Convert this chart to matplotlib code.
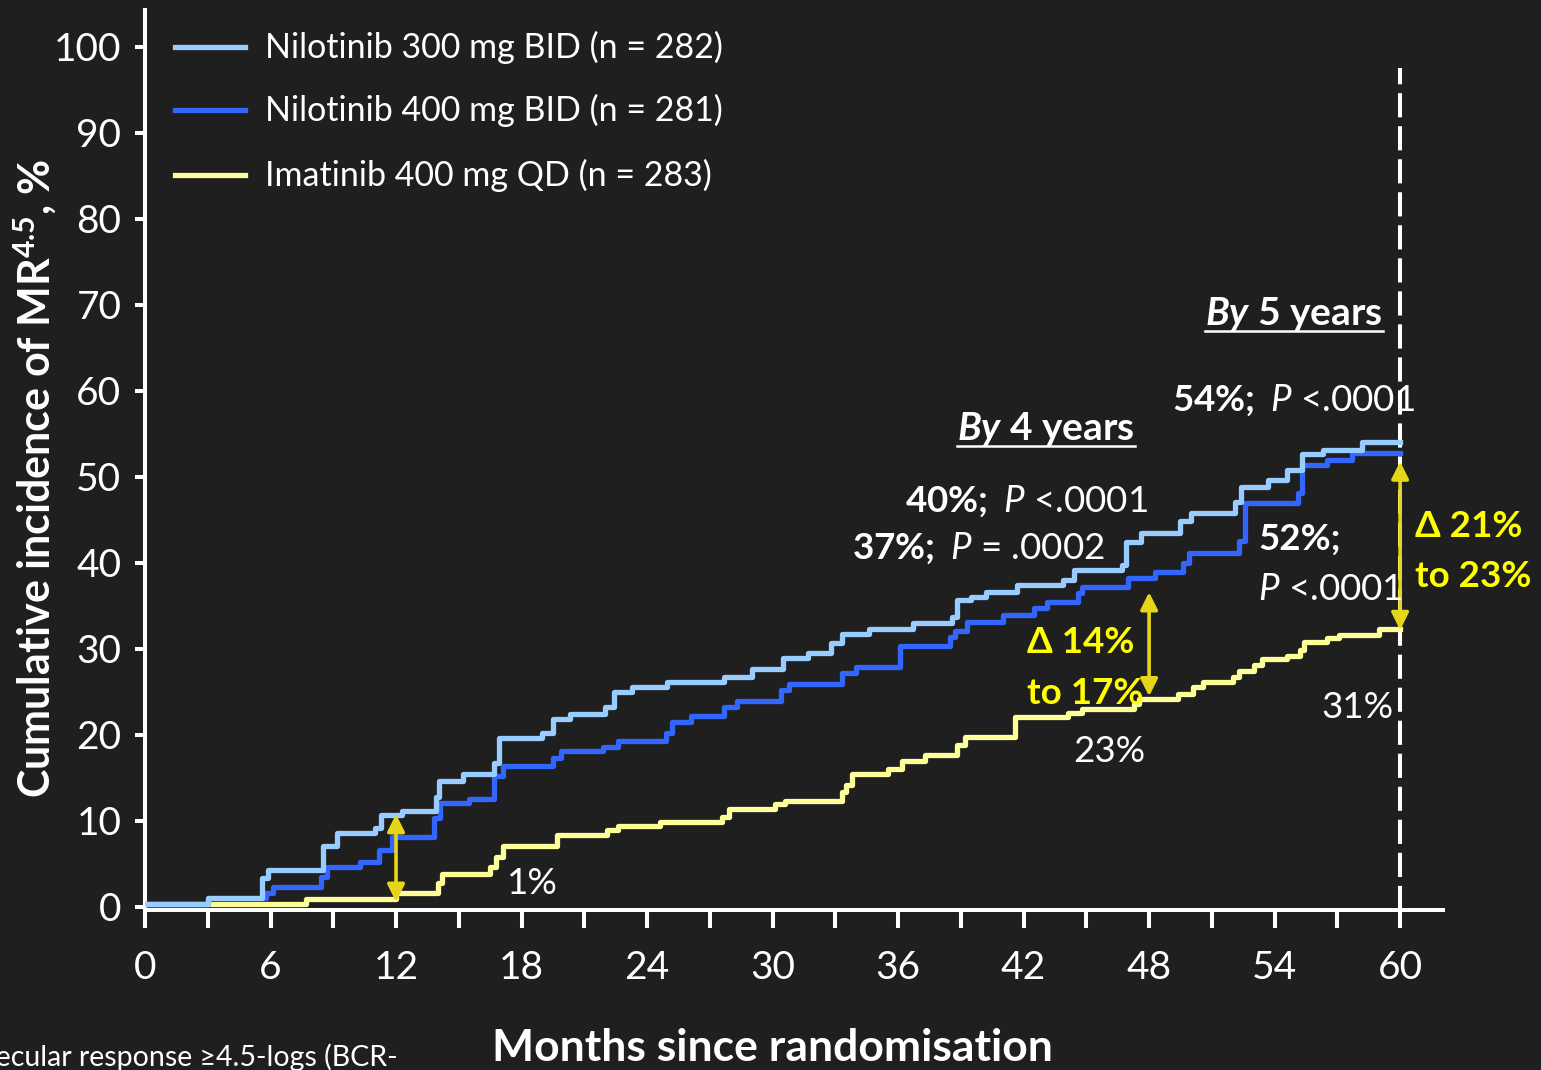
import matplotlib
matplotlib.use('Agg')
import matplotlib.pyplot as plt
from matplotlib.lines import Line2D
from matplotlib.ticker import MultipleLocator

# --- DATA ---
NIL300_T = [0, 3.0, 5.6, 5.9, 8.5, 9.2, 11.0, 11.3, 12.3, 13.9, 14.05, 15.2, 16.7, 16.9,
            19.0, 19.5, 20.3, 22.0, 22.4, 23.3, 24.95, 27.7, 29.0, 30.5, 31.7, 32.8, 33.3,
            34.6, 36.7, 38.6, 38.8, 39.5, 40.2, 41.7, 43.9, 44.4, 46.7, 46.9, 47.6, 49.5,
            50.0, 52.1, 52.4, 53.7, 54.6, 55.3, 56.3, 58.2, 60]
NIL300_V = [0.4, 1.0, 3.4, 4.3, 7.1, 8.6, 9.2, 10.7, 11.2, 12.8, 14.7, 15.5, 16.7, 19.7,
            20.2, 21.9, 22.4, 23.3, 25.0, 25.6, 26.2, 26.8, 27.7, 28.9, 29.5, 30.7, 31.7,
            32.3, 33.0, 33.7, 35.7, 36.0, 36.6, 37.4, 38.0, 39.2, 39.8, 42.4, 43.5, 44.9,
            45.8, 47.1, 48.8, 49.6, 50.8, 52.7, 53.1, 54.1, 54.1]

NIL400_T = [0, 3.0, 5.8, 6.1, 8.4, 8.7, 10.3, 11.2, 11.8, 13.8, 14.1, 15.5, 16.7, 17.1,
            19.5, 19.9, 21.9, 22.6, 24.9, 25.2, 26.1, 27.7, 28.3, 30.4, 30.8, 33.3, 34.0,
            36.1, 38.5, 38.7, 39.3, 41.0, 42.5, 43.1, 44.6, 44.8, 47.0, 48.3, 49.6, 49.9,
            52.3, 52.6, 55.1, 55.3, 56.5, 57.7, 60]
NIL400_V = [0.35, 1.0, 1.6, 2.3, 3.5, 4.6, 5.2, 6.6, 8.1, 10.4, 12.1, 12.5, 15.2, 16.4,
            17.3, 18.1, 18.6, 19.3, 20.2, 21.5, 22.2, 23.3, 24.0, 25.2, 25.9, 27.2, 27.9,
            30.3, 31.4, 32.1, 33.1, 34.0, 34.8, 35.5, 36.5, 37.2, 38.2, 38.9, 40.0, 41.2,
            42.6, 47.0, 48.1, 51.4, 52.0, 52.8, 52.8]

IMA_T = [0, 7.7, 12.0, 14.0, 14.2, 16.5, 16.8, 17.1, 19.7, 22.1, 22.6, 24.6, 27.6, 27.9,
         30.1, 30.6, 33.3, 33.5, 33.8, 35.5, 36.2, 37.3, 38.8, 39.2, 41.6, 44.1, 44.8,
         47.3, 47.5, 49.4, 50.1, 50.6, 52.0, 52.3, 53.0, 53.4, 54.6, 55.2, 55.4, 56.5,
         57.1, 59.0, 60]
IMA_V = [0.35, 0.9, 1.6, 2.8, 3.8, 4.7, 5.8, 7.1, 8.4, 9.0, 9.4, 9.9, 10.5, 11.4,
         12.0, 12.3, 13.4, 14.2, 15.5, 16.0, 17.0, 17.7, 18.8, 19.8, 22.1, 22.6, 23.0,
         23.6, 24.2, 24.8, 25.6, 26.2, 26.7, 27.4, 28.1, 28.8, 29.2, 29.9, 30.8, 31.3,
         31.6, 32.3, 32.3]

LABELS = ['Nilotinib 300 mg BID (n = 282)',
          'Nilotinib 400 mg BID (n = 281)',
          'Imatinib 400 mg QD (n = 283)']

# difference arrows: (month, low, high)
ARROWS = [(12, 0.6, 10.8), (48, 24.5, 36.6), (60, 32.2, 51.8)]

X_TICKS = list(range(0, 61, 6))
Y_TICKS = list(range(0, 101, 10))

# --- STYLE ---
BG = '#1f1f1f'
C_LIGHT = '#99ccff'
C_DARK = '#3366ff'
C_YEL = '#ffff99'
C_ARROW = '#e6d61a'
C_TXT_Y = '#ffff00'
FONT = 'Lato'

plt.rcParams['font.family'] = [FONT, 'DejaVu Sans']
plt.rcParams['mathtext.fontset'] = 'custom'
plt.rcParams['mathtext.rm'] = FONT
plt.rcParams['mathtext.it'] = FONT + ':italic'
plt.rcParams['mathtext.bf'] = FONT + ':bold'
plt.rcParams['mathtext.bfit'] = FONT + ':italic:bold'

W, H = 1541, 1070
fig = plt.figure(figsize=(W / 100, H / 100), dpi=100, facecolor=BG)


def px(x, y):
    return x / W, 1 - y / H


ax = fig.add_axes([145 / W, 1 - 910 / H, (1443 - 145) / W, 900 / H])
ax.set_facecolor(BG)
ax.set_xlim(0, 62.05)
ax.set_ylim(-0.35, 104.3)

lw = 3.8
ax.step(IMA_T, IMA_V, where='post', color=C_YEL, lw=lw, label=LABELS[2], zorder=3)
ax.step(NIL400_T, NIL400_V, where='post', color=C_DARK, lw=lw, label=LABELS[1], zorder=4)
ax.step(NIL300_T, NIL300_V, where='post', color=C_LIGHT, lw=lw, label=LABELS[0], zorder=5)

# 5-year dashed reference line
ax.plot([60, 60], [-0.35, 97.5], color='white', lw=2.9, dashes=(6, 2.2), zorder=2)

for m, lo, hi in ARROWS:
    ax.annotate('', xy=(m, lo), xytext=(m, hi),
                arrowprops=dict(arrowstyle='<|-|>', color=C_ARROW, lw=2.6,
                                mutation_scale=26, shrinkA=0, shrinkB=0), zorder=6)

for s in ['top', 'right']:
    ax.spines[s].set_visible(False)
for s in ['left', 'bottom']:
    ax.spines[s].set_color('white')
    ax.spines[s].set_linewidth(2.9)

ax.set_xticks(X_TICKS)
ax.xaxis.set_minor_locator(MultipleLocator(3))
ax.set_yticks(Y_TICKS)
ax.tick_params(axis='x', which='both', length=13, width=2.9, color='white',
               labelcolor='white', labelsize=28, pad=16, direction='out')
ax.tick_params(axis='y', length=7, width=2.9, color='white',
               labelcolor='white', labelsize=28, pad=10, direction='out')

# legend (drawn manually to match the slide)
rows = [(47, C_LIGHT), (110, C_DARK), (175, C_YEL)]
for (yy, col), lab in zip(rows, LABELS):
    x0, y0 = px(175, yy)
    x1, _ = px(245, yy)
    fig.add_artist(Line2D([x0, x1], [y0, y0], color=col, lw=3.8))
    fig.text(*px(265, yy), lab, color='white', fontsize=24.5, va='center', ha='left')

# axis titles
fig.text(*px(35, 478), r'Cumulative incidence of MR$^{\mathbf{4.5}}$, %', rotation=90,
         color='white', fontsize=31, fontweight='bold', ha='center', va='center')
fig.text(*px(772, 1048), 'Months since randomisation', color='white', fontsize=32,
         fontweight='bold', ha='center', va='center')
fig.text(*px(398, 1057), 'MR4.5, molecular response \u22654.5-logs (BCR-', color='white',
         fontsize=20.5, ha='right', va='center')

# annotations
def label(x, y, s, col='white', size=26.5, **kw):
    return fig.text(*px(x, y), s, color=col, fontsize=size, ha='left', va='baseline', **kw)


head4 = label(957, 440, r'$\mathbfit{By}$ 4 years', size=28, fontweight='bold')
head5 = label(1205, 325, r'$\mathbfit{By}$ 5 years', size=28, fontweight='bold')
label(1172, 411, r'$\mathbf{54\%;}\ \mathit{P}$ <.0001')
label(905, 512, r'$\mathbf{40\%;}\ \mathit{P}$ <.0001')
label(852, 559, r'$\mathbf{37\%;}\ \mathit{P}$ = .0002')
label(1258, 550, '52%;', fontweight='bold')
label(1258, 600, r'$\mathit{P}$ <.0001')
label(1027, 653, '\u0394 14%', col=C_TXT_Y, fontweight='bold')
label(1027, 704, 'to 17%', col=C_TXT_Y, fontweight='bold')
label(1415, 537, '\u0394 21%', col=C_TXT_Y, fontweight='bold')
label(1415, 587, 'to 23%', col=C_TXT_Y, fontweight='bold')
label(507, 894, '1%')
label(1073, 762, '23%')
label(1321, 718, '31%')

# underline the headings
fig.canvas.draw()
inv = fig.transFigure.inverted()
for t, base in [(head4, 446), (head5, 331)]:
    bb = t.get_window_extent()
    xa, _ = inv.transform((bb.x0, 0))
    xb, _ = inv.transform((bb.x1, 0))
    yb = 1 - base / H
    fig.add_artist(Line2D([xa, xb], [yb, yb], color='white', lw=1.8))

fig.savefig('out.png', dpi=100, facecolor=BG)
